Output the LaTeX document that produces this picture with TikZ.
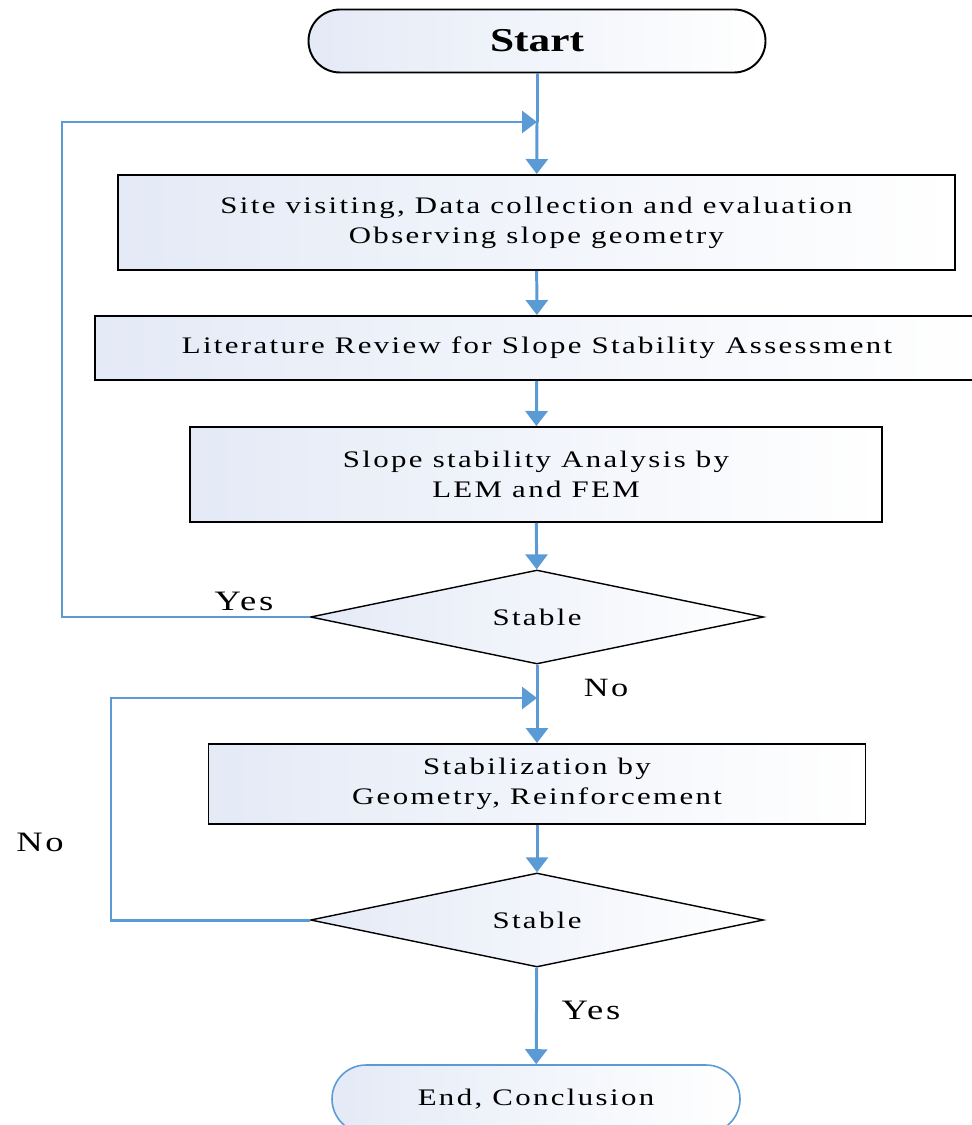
\documentclass[tikz,border=0pt]{standalone}
\usepackage{fontspec}
\setmainfont{Liberation Serif}[FakeStretch=1.3]
\usepackage{xcolor}
\usepackage{tikz}
\usetikzlibrary{shapes.geometric, arrows.meta, positioning}
\definecolor{flowblue}{HTML}{5B9BD5}
\definecolor{boxfill}{HTML}{E4EAF6}
\newcommand{\wide}{\addfontfeatures{LetterSpace=10}}

\begin{document}
\begin{tikzpicture}[
        box/.style={rectangle, draw, line width=1.1pt, align=center, font=\fontsize{13.5}{17}\selectfont\wide, left color=boxfill, right color=white},
        term/.style={box, rounded corners=0.63cm, minimum height=1.26cm},
        decision/.style={diamond, draw, line width=0.8pt, inner sep=0pt, shape aspect=4.8, align=center, font=\fontsize{13.5}{17}\selectfont\wide, left color=boxfill, right color=white, minimum width=9.06cm, minimum height=1.88cm},
        arrow/.style={-{Triangle[width=0.44cm, length=0.3cm]}, line width=1.7pt, draw=flowblue},
        link/.style={line width=1.7pt, draw=flowblue},
        lbl/.style={font=\fontsize{16}{18}\selectfont\wide}
    ]
        \useasboundingbox (0,0) rectangle (19.42,-22.5);

        \node[term, minimum width=9.14cm, font=\fontsize{19}{22}\selectfont\bfseries] (start) at (10.74,-0.82) {Start};
        \node[box, minimum width=16.74cm, minimum height=1.9cm] (visit) at (10.73,-4.45) {Site visiting, Data collection and evaluation\\Observing slope geometry};
        \node[box, minimum width=17.68cm, minimum height=1.28cm] (review) at (10.74,-6.96) {Literature Review for Slope Stability Assessment};
        \node[box, minimum width=13.84cm, minimum height=1.9cm] (analysis) at (10.72,-9.49) {Slope stability Analysis by\\LEM and FEM};
        \node[decision] (stable1) at (10.74,-12.34) {Stable};
        \node[box, minimum width=13.14cm, minimum height=1.6cm] (stabilize) at (10.74,-15.68) {Stabilization by\\Geometry, Reinforcement};
        \node[decision] (stable2) at (10.74,-18.4) {Stable};
        \node[term, draw=flowblue, line width=0.9pt, minimum width=8.16cm, minimum height=1.36cm, rounded corners=0.68cm] (finish) at (10.72,-21.98) {End, Conclusion};

        \coordinate (loopa) at (10.74,-2.44);
        \coordinate (loopb) at (10.74,-13.96);

        \draw[link] (start) -- (loopa);
        \draw[arrow] (loopa) -- (visit);
        \draw[arrow] (visit) -- (review);
        \draw[arrow] (review) -- (analysis);
        \draw[arrow] (analysis) -- (stable1);
        \draw[link] (stable1) -- (loopb);
        \draw[arrow] (loopb) -- (stabilize);
        \draw[arrow] (stabilize) -- (stable2);
        \draw[arrow] (stable2) -- (finish);

        \draw[arrow] (stable1.west) -| (1.24,-2.44) -- (loopa);
        \draw[arrow] (stable2.west) -| (2.22,-13.96) -- (loopb);

        \node[lbl] (yesa) at (4.88,-12.02) {Yes};
        \node[lbl, font=\fontsize{15}{17}\selectfont\wide] (noa) at (12.12,-13.76) {No};
        \node[lbl] (nob) at (0.8,-16.84) {No};
        \node[lbl] (yesb) at (11.82,-20.2) {Yes};
    \end{tikzpicture}
\end{document}
